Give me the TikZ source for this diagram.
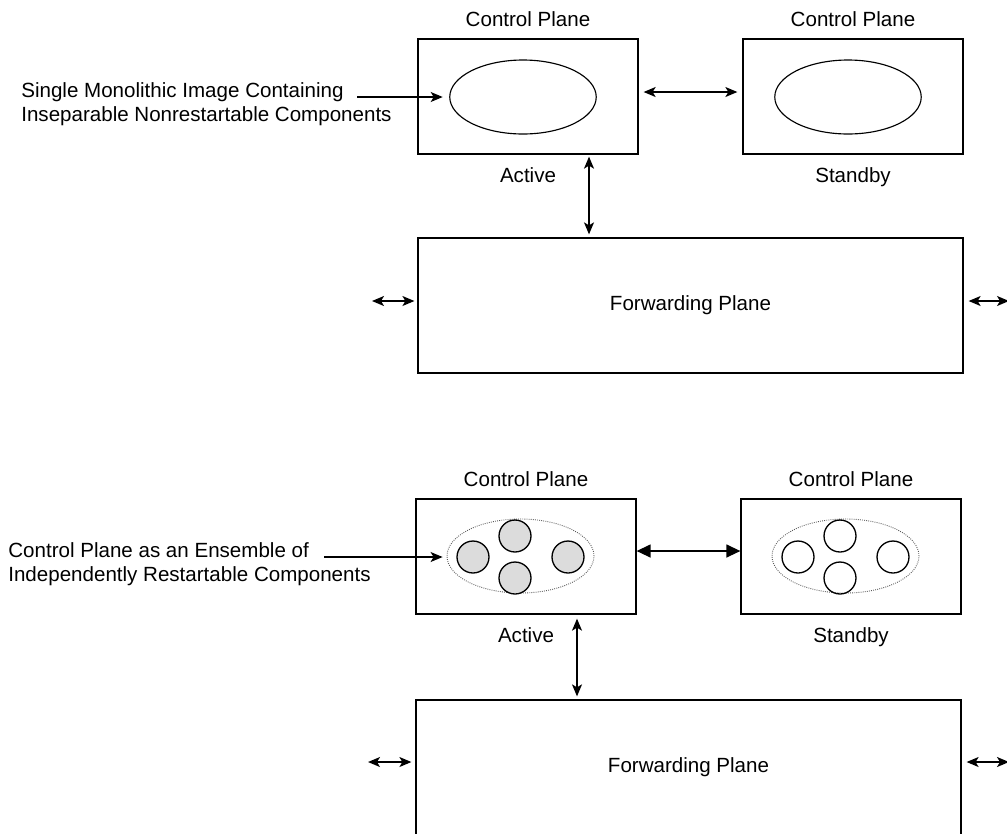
\documentclass[tikz,border=0pt]{standalone}
\usepackage{fontspec}
\setmainfont{Liberation Sans}
\usetikzlibrary{positioning,shapes.geometric,arrows.meta}

\definecolor{compgrey}{HTML}{DCDCDC}

\tikzset{
  plane/.style={draw, line width=0.75pt, minimum width=4.4cm, minimum height=2.3cm, inner sep=0pt},
  fwdplane/.style={draw, line width=0.75pt, minimum width=10.9cm, minimum height=2.7cm, inner sep=0pt, font=\fontsize{11.7}{13.6}\selectfont},
  image/.style={draw, ellipse, line width=0.65pt, minimum width=2.93cm, minimum height=1.48cm, inner sep=0pt},
  ensemble/.style={draw=black!65, ellipse, line width=0.5pt, dash pattern=on 0.5pt off 0.7pt, minimum width=2.94cm, minimum height=1.48cm, inner sep=0pt},
  comp/.style={draw, circle, line width=0.75pt, minimum size=0.64cm, inner sep=0pt},
  compon/.style={comp, fill=compgrey},
  lbl/.style={inner sep=0pt, font=\fontsize{11.7}{13.6}\selectfont},
  note/.style={lbl, align=left, anchor=west},
  link/.style={line width=0.8pt, {Stealth[length=0.24cm,width=0.2cm,inset=0.06cm]}-{Stealth[length=0.24cm,width=0.2cm,inset=0.06cm]}},
  heavylink/.style={line width=0.8pt, {Triangle[length=0.28cm,width=0.26cm]}-{Triangle[length=0.28cm,width=0.26cm]}},
  pointer/.style={line width=0.65pt, -{Stealth[length=0.24cm,width=0.2cm,inset=0.06cm]}},
}

\begin{document}
\begin{tikzpicture}[x=0.02cm, y=-0.02cm]
    \useasboundingbox (0,0) rectangle (1007,833);
    \clip (0,0) rectangle (1007,833);

    % Coordinates
    \coordinate (pA) at (357,97);
    \coordinate (vA) at (589,0);
    \coordinate (lA) at (372,301);
    \coordinate (rA) at (1009,301);
    \coordinate (pB) at (324,557);
    \coordinate (vB) at (577,0);
    \coordinate (lB) at (368,762);
    \coordinate (rB) at (1009,762);

    % Upper system: monolithic control plane
    \node[plane] (actA) at (528,96.5) {};
    \node[plane] (sbyA) at (853,96.5) {};
    \node[fwdplane] (fwdA) at (690.5,305.5) {Forwarding Plane};
    \node[image] (imgA) at (523,97) {};
    \node[image] (imgS) at (848,97) {};

    % Upper labels
    \node[lbl, above=0.22cm of actA] (cpA) {Control Plane};
    \node[lbl, above=0.22cm of sbyA] (cpS) {Control Plane};
    \node[lbl, below=0.26cm of actA] (stA) {Active};
    \node[lbl, below=0.26cm of sbyA] (stS) {Standby};
    \node[note] (noteA) at (21,104) {Single Monolithic Image Containing\\Inseparable Nonrestartable Components};

    % Upper arrows
    \draw[pointer, shorten >=0.13cm] (pA) -- (imgA.west |- pA);
    \draw[link] ([shift={(5,-4.5)}]actA.east) -- ([shift={(-5,-4.5)}]sbyA.west);
    \draw[link, shorten <=0.04cm, shorten >=0.06cm] (actA.south -| vA) -- (fwdA.north -| vA);
    \draw[link, shorten >=0.06cm] (lA) -- (fwdA.west |- lA);
    \draw[link, shorten <=0.1cm] (fwdA.east |- rA) -- (rA);

    % Lower system: ensemble of restartable components
    \node[plane] (actB) at (526,556.5) {};
    \node[plane] (sbyB) at (851,556.5) {};
    \node[fwdplane] (fwdB) at (688.5,767.5) {Forwarding Plane};
    \node[ensemble] (ensA) at (520.5,556) {};
    \node[ensemble] (ensS) at (845.5,556) {};

    % Components, active side
    \node[compon] (caL) at (473,557) {};
    \node[compon] (caT) at (515,536) {};
    \node[compon] (caB) at (515,578) {};
    \node[compon] (caR) at (568,557) {};

    % Components, standby side
    \node[comp] (csL) at (798,557) {};
    \node[comp] (csT) at (840,536) {};
    \node[comp] (csB) at (840,578) {};
    \node[comp] (csR) at (893,557) {};

    % Lower labels
    \node[lbl, above=0.22cm of actB] (cpB) {Control Plane};
    \node[lbl, above=0.22cm of sbyB] (cpT) {Control Plane};
    \node[lbl, below=0.26cm of actB] (stB) {Active};
    \node[lbl, below=0.26cm of sbyB] (stT) {Standby};
    \node[note] (noteB) at (8,564.5) {Control Plane as an Ensemble of\\Independently Restartable Components};

    % Lower arrows
    \draw[pointer, shorten >=0.08cm] (pB) -- (ensA.west |- pB);
    \draw[heavylink] ([shift={(0,-5.5)}]actB.east) -- ([shift={(0,-5.5)}]sbyB.west);
    \draw[link, shorten <=0.08cm, shorten >=0.06cm] (actB.south -| vB) -- (fwdB.north -| vB);
    \draw[link, shorten >=0.08cm] (lB) -- (fwdB.west |- lB);
    \draw[link, shorten <=0.1cm] (fwdB.east |- rB) -- (rB);
\end{tikzpicture}
\end{document}
